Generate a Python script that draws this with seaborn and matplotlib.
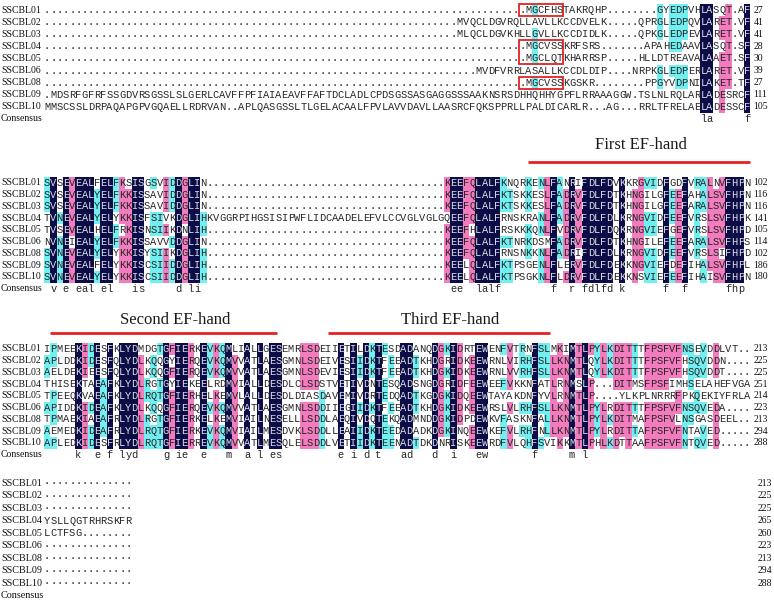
import numpy as np
import pandas as pd
import matplotlib
matplotlib.use("Agg")
import matplotlib.pyplot as plt
from matplotlib.colors import ListedColormap
from matplotlib.patches import Rectangle
import seaborn as sns
from collections import Counter

# ---------------- data ----------------
names = ["SSCBL01", "SSCBL02", "SSCBL03", "SSCBL04", "SSCBL05",
         "SSCBL06", "SSCBL08", "SSCBL09", "SSCBL10"]

block1 = [
    "." * 77 + "MGCFHSTAKRQHP" + "." * 8 + "GYEDPVHLASQT.AF",
    "." * 66 + "MVQCLDGVRQLLAVLLKCCDVELK" + "." * 5 + "QPRGLEDPQVLARET.VF",
    "." * 66 + "MLQCLDGVKHLLGVLLKCCDIDLK" + "." * 5 + "QPKGLEDPEVLARET.VF",
    "." * 77 + "MGCVSSKRFSRS" + "." * 7 + "APAHEDAAVLASQT.SF",
    "." * 77 + "MGCLQTKHARRSP" + "." * 5 + "HLLDTREAVALAAET.SF",
    "." * 69 + "MVDFVRRLASALLKCCDLDIP" + "." * 4 + "NRPKGLEDPERLARET.VF",
    "." * 77 + "MGCVSSKGSKR" + "." * 8 + "PPGYVDPNILAKET.TF",
    ".MDSRFGFRFSSGDVRSGSSLSLGERLCAVFFPFIAIAEAVFFAFTDCLADLCPDSGSSASGAGGSSSAAKNSRSDHHQHHYGPFLRRAAAGGW.TSLNLRQLARLADESRCF",
    "MMSCSSLDRPAQAPGPVGQAELLRDRVAN..APLQASGSSLTLGELACAALFPVLAVVDAVLLAASRCFQKSPPRLLPALDICARLR...AG...RRLTFRELAELADESSCF",
]
block1_ends = [27, 41, 41, 28, 30, 39, 27, 111, 105]

block2 = [
    "SVSEVEALFELFKSISGSVIDDGLIN" + "." * 38 + "KEEFQLALFKNQRKENLFANRIFDLFDVKKRGVIDFGDFVRALNVFHPN",
    "SVSEVEALYELFKKISSAVIDDGLIN" + "." * 38 + "KEEFQLALFKTSKKESLFADRVFDLFDTKHNGILGFEEFAHALSVFHPN",
    "SVSEVEALYELFKKISSAVIDDGLIN" + "." * 38 + "KEEFQLALFKTSKKESLFADRVFDLFDTKHNGILGFEEFARALSVFHPN",
    "TVNEVEALYELYKKISFSIVKDGLIHKVGGRPIHGSISIPWFLIDCAADELEFVLCCVGLVGLGQEEFQLALFRNSKRANLFADRVFDLFDLKRNGVIDFEEFVRSLSVFHPK",
    "TVSEVEALHELFRKISNSIIKDNLIH" + "." * 38 + "KEEFHLALFRSKKKQNLFVDRVFDLFDQKRNGVIEFGEFVRSLSVFHPD",
    "NVNEIEALYELFKKISSAVVDDGLIN" + "." * 38 + "KEEFQLALFKTNRKDSMFADRVFDLFDTKHNGILEFEEFARALSVFHPS",
    "SVNEVEALYELYKKISYSIIKDGLIH" + "." * 38 + "KEEFQLALFRNSNKKNLFADRIFDLFDLKRNGVIDFEEFVRSLSIFHPD",
    "SVNEVEALFELYKKISCSIIDDGLIH" + "." * 38 + "KEELQLALFKTPSGENLFLERVFDLFDEKKNGVIEFDEFIHALSVFHPL",
    "SVNEVEALYELYKKISCSIIDDGLIH" + "." * 38 + "KEELQLALFKTPSGKNLFLDRVFDLFDEKKNSVIEFEEFIHAISVFHPN",
]
block2_ends = [102, 116, 116, 141, 105, 114, 102, 186, 180]

block3 = [
    "IPMEEKIDESFKLYDMDGTGFIERKEVKQMLIALLGESEMRLSDEIIETILDKTESDADANQDGKIDRTEWENFVTRNFSLMKIMTLPYLKDITTTFPSFVFNSEVDDLVT..",
    "APLDDKIDESFQLYDLKQQGYIERQEVKQMVVATLAESGMNLSDEIVESIIDKTFEEADTKHDGRIDKEEWRNLVIRHFSLLKNMTLQYLKDITTTFPSFVFHSQVDDN....",
    "AELDEKIEESFQLYDLKQQGFIERQEVKQMVVATLAESGMNLSDEVIESIIDKTFEEADTKHDGKIDKEEWRNLVVRHFSLLKNMTLQYLKDITTTFPSFVFHSQVDDT....",
    "THISEKTAEAFKLYDLRGTGYIEKEELRDMVIALLDESDLCLSDSTVETIVDNTESQADSNGDGRIDFEEWEEFVKKNFATLRNMSLP...DITMSFPSFIMHSELAHEFVGA",
    "TPEEQKVAEAFKLYDLRQTGFIERHELKEMVLALLDESDLDIASDAVEMIVDRTEDQADTKGDGKIDQEEWTAYAKDNFYVLRNMTLP....YLKPLNRRRFPKQEKIYFRLA",
    "APIDDKIDEAFKLYDLKQQGFIERQEVKQMVVATLAESGMNLSDDIIEGIIDKTFEEADTKHDGKIDKEEWRSLVLRHFSLLKNMTLPYLRDITTTFPSFVFNSQVEDA....",
    "TPMAEKIAEAFRLYDLRGTGFIERKELKEMVIAILNESELLLSDDLAEQIVDQTEKQADMNDDGKIDPDEWKVFASKNFALLKNMTLPYLKDITMAFPSFVLNSGASDEEL..",
    "AEMEDKIDEAFRLYDLRQTGFIERKEVKQMVIAILMESDVKLSDDLLEAIIDKTEEDADADKDGKINQEEWKEFVLRHFNLLKNMTLPYLRDITTAFPSFVFNTAVED.....",
    "APLEDKIDESFRLYDLRQTGFIERREVKQMVVATLMESQLELSDDLVETIIDKTEENADTDKDNRISKEEWRDFVLQHFSVIKKMTLPHLKDTTAAFPSFVFNTQVED.....",
]
block3_ends = [213, 225, 225, 251, 214, 223, 213, 294, 288]

block4 = [
    "\u00b7" * 14, "\u00b7" * 14, "\u00b7" * 14,
    "YSLLQGTRHRSKFR",
    "LCTFSG........",
    "\u00b7" * 14, "\u00b7" * 14, "\u00b7" * 14, "\u00b7" * 14,
]
block4_ends = [213, 225, 225, 265, 260, 223, 213, 294, 288]

ef_hands = ["First EF-hand", "Second EF-hand", "Third EF-hand"]

# ---------------- layout ----------------
W_PX, H_PX = 774, 601
X0 = 44.0      # left edge of alignment columns (px)
CW = 6.25      # column width (px)
NAVY, PINK, CYAN = "#0c0c46", "#f27cbd", "#72eff0"
cmap = ListedColormap(["#ffffff", CYAN, PINK, NAVY])
MONO = "Liberation Mono"
SERIF = "Liberation Serif"

fig = plt.figure(figsize=(W_PX / 100, H_PX / 100), dpi=100)
fig.patch.set_facecolor("white")


def conservation(rows):
    n, L = len(rows), len(rows[0])
    codes = np.zeros((n + 1, L), dtype=int)
    cons = []
    for j in range(L):
        col = [r[j] for r in rows if r[j].isalpha()]
        if not col:
            cons.append(" ")
            continue
        aa, c = Counter(col).most_common(1)[0]
        frac = c / n
        level = 3 if c == n else (2 if frac >= 0.75 else (1 if frac >= 0.5 else 0))
        for i, r in enumerate(rows):
            if r[j] == aa:
                codes[i, j] = level
        cons.append(aa.lower() if level == 3 else " ")
    return codes, "".join(cons)


def draw_block(rows, ends, top, rh, colored=True, name_size=7.0,
               num_x=None, num_ha="left"):
    n_rows = len(rows) + 1
    L = len(rows[0])
    if colored:
        codes, cons = conservation(rows)
    else:
        codes, cons = np.zeros((n_rows, L), dtype=int), " " * L
    labels = names + ["Consensus"]
    annot = np.array([list(r) for r in rows] + [list(cons)])
    ax = fig.add_axes([X0 / W_PX, 1 - (top + n_rows * rh) / H_PX,
                       L * CW / W_PX, n_rows * rh / H_PX])
    df = pd.DataFrame(codes, index=labels)
    sns.heatmap(df, ax=ax, cmap=cmap, vmin=-0.5, vmax=3.5, cbar=False,
                annot=annot, fmt="", xticklabels=False, yticklabels=True,
                linewidths=0,
                annot_kws=dict(fontsize=7.5, family=MONO))
    for t in ax.texts:
        x, y = t.get_position()
        c = codes[int(y), int(x)]
        t.set_color("#dcdce6" if c == 3 else "#262626")
    ax.set_yticks(np.arange(n_rows) + 0.5)
    ax.set_yticklabels(labels, rotation=0, ha="left", va="center",
                       fontsize=name_size, family=SERIF, color="#111111")
    ax.tick_params(axis="y", length=0, pad=(X0 - 1) * 0.72)
    ax.set_xlabel("")
    ax.set_ylabel("")
    nx = L + 0.55 if num_x is None else num_x
    for i, e in enumerate(ends):
        ax.text(nx, i + 0.5, str(e), ha=num_ha, va="center",
                fontsize=7.0, family=SERIF, color="#111111")
    return ax


ax1 = draw_block(block1, block1_ends, top=4.0, rh=12.1)
for (r0, nr) in [(0, 1), (3, 2), (6, 1)]:
    ax1.add_patch(Rectangle((76, r0), 7, nr, fill=False,
                            edgecolor="#e32222", lw=1.3, clip_on=False))

ax2 = draw_block(block2, block2_ends, top=177.1, rh=11.75)
ax3 = draw_block(block3, block3_ends, top=343.1, rh=11.75)
ax4 = draw_block(block4, block4_ends, top=476.8, rh=12.5, colored=False,
                 name_size=7.3, num_x=(772 - X0) / CW, num_ha="right")

# EF-hand annotations (overlay in pixel space)
ov = fig.add_axes([0, 0, 1, 1], zorder=5)
ov.set_xlim(0, W_PX)
ov.set_ylim(H_PX, 0)
ov.axis("off")
spans = [(77.5, 113.0, 162, 145, 95.5),
         (1.0, 37.3, 333, 320, 21.0),
         (45.5, 81.0, 333, 320, 65.0)]
for label, (c0, c1, ly, ty, tc) in zip(ef_hands, spans):
    ov.plot([X0 + c0 * CW, X0 + c1 * CW], [ly, ly], color="#e32222", lw=2.0,
            solid_capstyle="butt")
    ov.text(X0 + tc * CW, ty, label, ha="center", va="center",
            fontsize=12, family=SERIF, color="#1a1a1a")

fig.savefig("out.png", dpi=100)
